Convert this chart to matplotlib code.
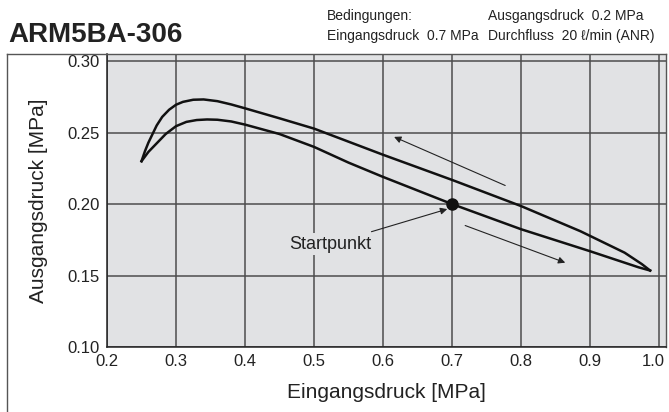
import matplotlib
matplotlib.use("Agg")
import matplotlib.pyplot as plt
from matplotlib.lines import Line2D
from matplotlib.transforms import ScaledTranslation

plt.rcParams['font.family'] = ['Liberation Sans', 'DejaVu Sans']

# rising-pressure branch (upper curve)
upper_x = [0.25, 0.255, 0.26, 0.266, 0.272, 0.28, 0.29, 0.30, 0.31, 0.325,
           0.34, 0.36, 0.38, 0.40, 0.45, 0.50, 0.60, 0.70, 0.80, 0.886,
           0.95, 0.975, 0.987]
upper_y = [0.230, 0.237, 0.243, 0.249, 0.255, 0.261, 0.266, 0.2695, 0.2715,
           0.273, 0.2732, 0.272, 0.2697, 0.267, 0.260, 0.2528, 0.2345,
           0.2169, 0.1986, 0.181, 0.166, 0.158, 0.1535]

# falling-pressure branch (lower curve)
lower_x = [0.25, 0.26, 0.272, 0.285, 0.30, 0.315, 0.33, 0.345, 0.36, 0.38,
           0.40, 0.45, 0.50, 0.55, 0.60, 0.70, 0.80, 0.90, 0.95, 0.97, 0.987]
lower_y = [0.230, 0.2365, 0.2425, 0.249, 0.2545, 0.2575, 0.2588, 0.2592,
           0.259, 0.2578, 0.2556, 0.249, 0.240, 0.229, 0.219, 0.200, 0.1824,
           0.167, 0.159, 0.1558, 0.1535]

start_point = (0.7, 0.2)

x_ticks = [0.2, 0.3, 0.4, 0.5, 0.6, 0.7, 0.8, 0.9, 1.0]
y_ticks = [0.10, 0.15, 0.20, 0.25, 0.30]

fig = plt.figure(figsize=(6.69, 4.12), dpi=100)
W, H = 669.0, 412.0
ax = fig.add_axes([107 / W, 1 - 347 / H, (666 - 107) / W, (347 - 54) / H])
ax.set_facecolor('#e1e2e4')

ax.set_xlim(0.2, 1.01)
ax.set_ylim(0.10, 0.305)
ax.set_xticks(x_ticks)
ax.set_xticklabels(['{:.1f}'.format(v) for v in x_ticks])
ax.set_yticks(y_ticks)
ax.set_yticklabels(['{:.2f}'.format(v) for v in y_ticks])
ax.tick_params(length=0, labelsize=12, colors='#222222', pad=5)
# last x label sits close to the edge, nudge it left a little
last = ax.get_xticklabels()[-1]
last.set_transform(last.get_transform() + ScaledTranslation(-4 / 72, 0, fig.dpi_scale_trans))
ax.grid(True, color='#4d4d4d', lw=1.1)
ax.set_axisbelow(True)
for s in ('top', 'right'):
    ax.spines[s].set_color('#555555')
    ax.spines[s].set_linewidth(1.0)
for s in ('left', 'bottom'):
    ax.spines[s].set_color('#222222')
    ax.spines[s].set_linewidth(1.1)

ax.plot(upper_x, upper_y, color='#111111', lw=1.8, solid_joinstyle='round')
ax.plot(lower_x, lower_y, color='#111111', lw=1.8, solid_joinstyle='round')
ax.plot(*start_point, 'o', color='#111111', ms=8, zorder=5)

# direction arrows
ax.annotate('', xy=(0.616, 0.247), xytext=(0.777, 0.213),
            arrowprops=dict(arrowstyle='-|>', color='#222222', lw=0.8,
                            mutation_scale=10, shrinkA=0, shrinkB=0))
ax.annotate('', xy=(0.864, 0.159), xytext=(0.719, 0.185),
            arrowprops=dict(arrowstyle='-|>', color='#222222', lw=0.8,
                            mutation_scale=10, shrinkA=0, shrinkB=0))

ax.annotate('Startpunkt', xy=(0.693, 0.1965), xytext=(0.523, 0.172),
            ha='center', va='center', fontsize=13, color='#222222',
            bbox=dict(boxstyle='square,pad=0.15', fc='#e1e2e4', ec='none'),
            arrowprops=dict(arrowstyle='-|>', color='#222222', lw=0.8,
                            mutation_scale=10, shrinkA=3, shrinkB=0))

ax.set_xlabel('Eingangsdruck [MPa]', fontsize=15, color='#222222', labelpad=10)
ax.set_ylabel('Ausgangsdruck [MPa]', fontsize=15, color='#222222', labelpad=14)

# outer frame around the chart
fig.add_artist(Line2D([7 / W, 7 / W], [0, 1 - 54 / H], transform=fig.transFigure,
                      color='#555555', lw=1.0))
fig.add_artist(Line2D([7 / W, 107 / W], [1 - 54 / H, 1 - 54 / H],
                      transform=fig.transFigure, color='#555555', lw=1.0))

fig.text(8 / W, 1 - 42 / H, 'ARM5BA-306', fontsize=20, fontweight='bold',
         color='#222222', va='baseline')
fig.text(327 / W, 1 - 20 / H, 'Bedingungen:', fontsize=10, color='#222222',
         va='baseline')
fig.text(327 / W, 1 - 40 / H, 'Eingangsdruck  0.7 MPa', fontsize=10,
         color='#222222', va='baseline')
fig.text(488 / W, 1 - 20 / H, 'Ausgangsdruck  0.2 MPa', fontsize=10,
         color='#222222', va='baseline')
fig.text(488 / W, 1 - 40 / H, 'Durchfluss  20 \u2113/min (ANR)', fontsize=10,
         color='#222222', va='baseline')

fig.savefig('out.png', dpi=100)
